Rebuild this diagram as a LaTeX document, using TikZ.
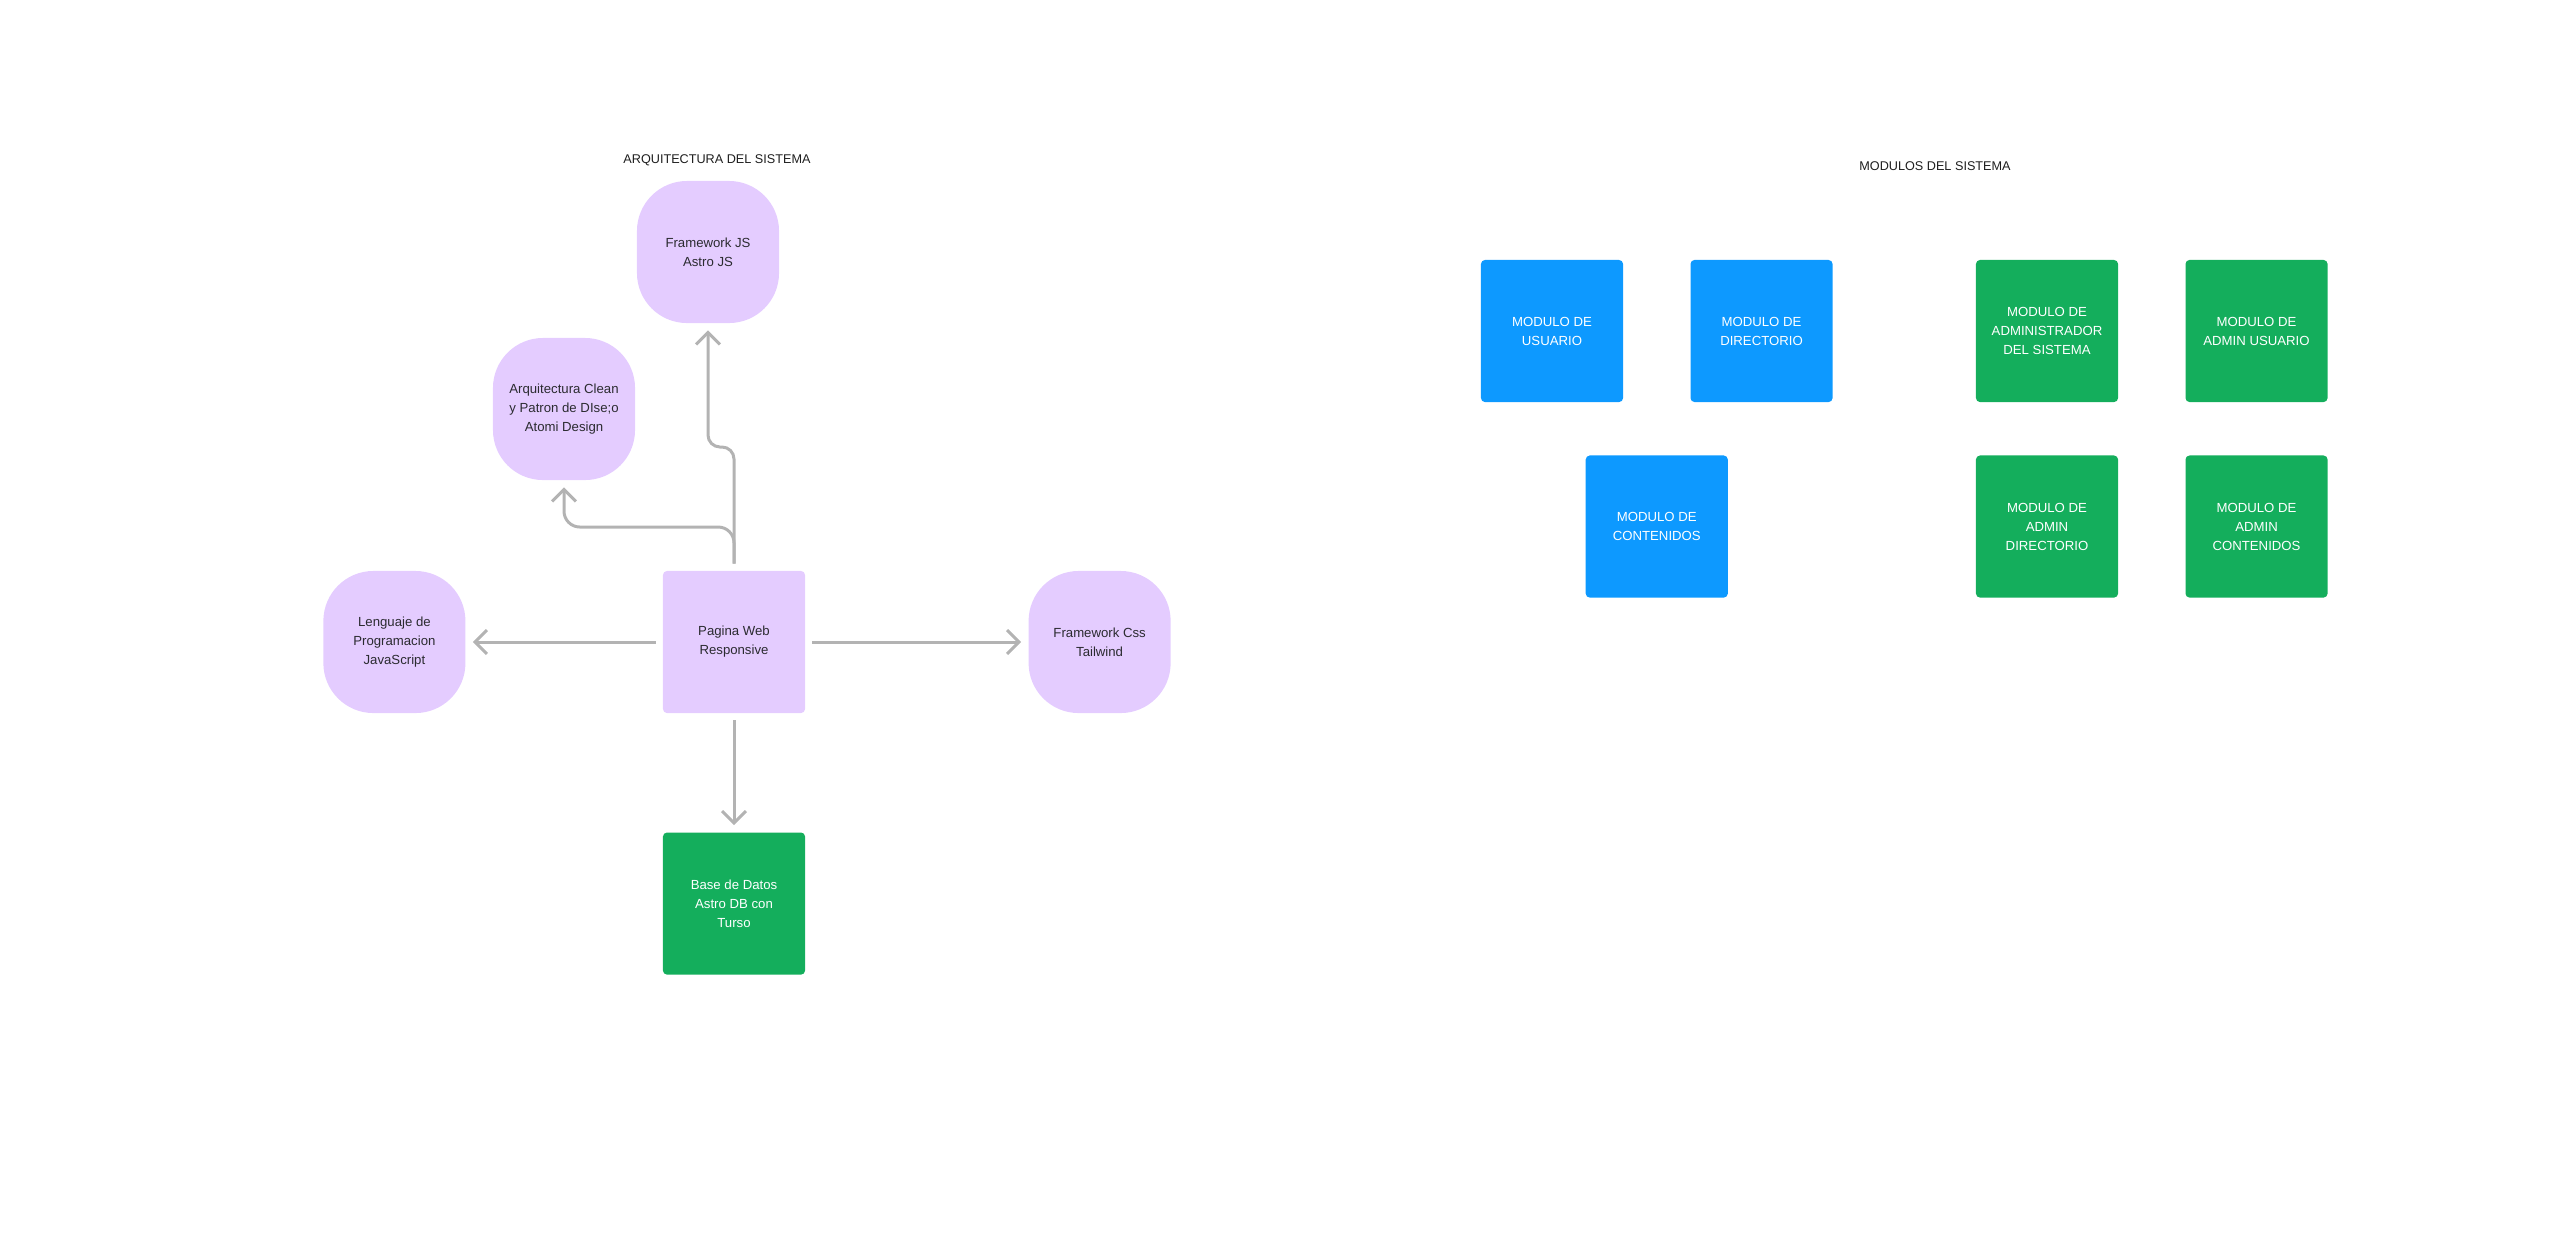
\documentclass[tikz,border=0pt]{standalone}
\usepackage{fontspec}
\setmainfont{Liberation Sans}
\usetikzlibrary{arrows.meta,calc,positioning}
\definecolor{Ink}{HTML}{2B2B30}
\definecolor{Heading}{HTML}{1E1E1E}
\definecolor{Lilac}{HTML}{E4CCFF}
\definecolor{Sky}{HTML}{0D99FF}
\definecolor{Leaf}{HTML}{14AE5C}
\definecolor{Wire}{HTML}{B3B3B3}
\tikzset{pill/.style={rounded corners=0.5cm,fill=Lilac,text=Ink,minimum width=1.42cm,minimum height=1.42cm,align=center,font=\fontsize{3.75}{5.4}\selectfont},card/.style={rounded corners=0.04cm,minimum width=1.42cm,minimum height=1.42cm,align=center,font=\fontsize{3.75}{5.4}\selectfont},webbox/.style={card,fill=Lilac,text=Ink},dbbox/.style={card,fill=Leaf,text=white},modblue/.style={card,fill=Sky,text=white},modgreen/.style={card,fill=Leaf,text=white},heading/.style={text=Heading,font=\fontsize{3.6}{4}\selectfont},flow/.style={-{Straight Barb[length=3.4pt,width=6.8pt]},line width=0.85pt,draw=Wire,shorten <=1.9pt,shorten >=1.9pt}}
\begin{document}
\begin{tikzpicture}[x=0.01cm,y=-0.01cm]
      \useasboundingbox(0,0)rectangle(2560,1235);
      % arquitectura
      \node[heading](archtitle)at(717,160){ARQUITECTURA DEL SISTEMA};
      \node[webbox](web)at(734,642){Pagina Web\\Responsive};
      \node[pill,left=1.96cm of web](lang){Lenguaje de\\Programacion\\JavaScript};
      \node[pill,right=2.22cm of web](css){Framework Css\\Tailwind};
      \node[dbbox,below=1.18cm of web](db){Base de Datos\\Astro DB con\\Turso};
      \node[pill](fjs)at(708,252){Framework JS\\Astro JS};
      \node[pill](clean)at(564,409){Arquitectura Clean\\y Patron de DIse;o\\Atomi Design};
      \coordinate(jsbend)at(0,447);\coordinate(cleanbend)at(0,527);
      \draw[flow](web)--(lang);\draw[flow](web)--(css);\draw[flow](web)--(db);
      \draw[flow,rounded corners=3.4pt](web.north)--(web.north|-jsbend)-|(fjs.south);
      \draw[flow,rounded corners=4.5pt](web.north)--(web.north|-cleanbend)-|(clean.south);
      % modulos
      \node[heading](modtitle)at(1935,166){MODULOS DEL SISTEMA};
      \node[modblue](musu)at(1552,331){MODULO DE\\USUARIO};
      \node[modblue,right=0.66cm of musu](mdir){MODULO DE\\DIRECTORIO};
      \node[modblue,below=0.52cm of $(musu.south)!0.5!(mdir.south)$](mcont){MODULO DE\\CONTENIDOS};
      \node[modgreen](madmsis)at(2047,331){MODULO DE\\ADMINISTRADOR\\DEL SISTEMA};
      \node[modgreen,right=0.66cm of madmsis](madmusu){MODULO DE\\ADMIN USUARIO};
      \node[modgreen,below=0.52cm of madmsis](madmdir){MODULO DE\\ADMIN\\DIRECTORIO};
      \node[modgreen,below=0.52cm of madmusu](madmcont){MODULO DE\\ADMIN\\CONTENIDOS};
    \end{tikzpicture}
\end{document}
